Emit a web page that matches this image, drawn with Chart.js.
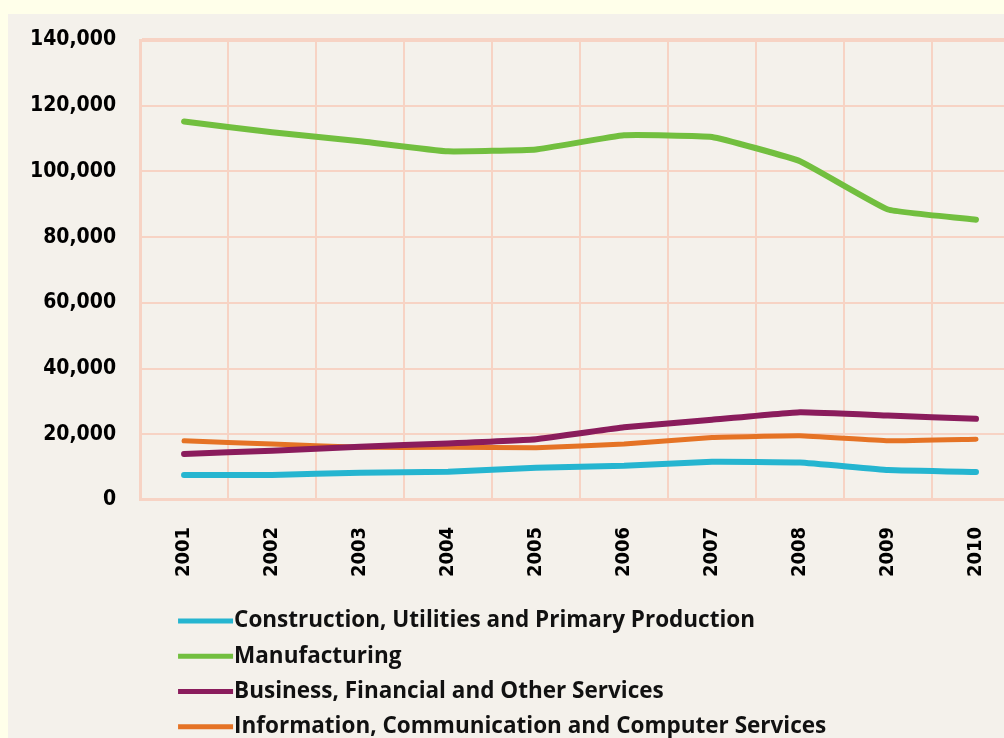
<!DOCTYPE html>
<html>
<head>
<meta charset="utf-8">
<script src="https://cdn.jsdelivr.net/npm/chart.js@4"></script>
<style>
html,body{margin:0;padding:0;overflow:hidden;background:#ffffea;}
#wrap{position:absolute;left:0;top:0;width:1032px;height:738px;}
</style>
</head>
<body>
<div id="wrap"><canvas id="c" width="1032" height="738"></canvas></div>
<script>
const years = ["2001","2002","2003","2004","2005","2006","2007","2008","2009","2010"];
const yTicks = [0, 20000, 40000, 60000, 80000, 100000, 120000, 140000];
const seriesNames = [
  "Construction, Utilities and Primary Production",
  "Manufacturing",
  "Business, Financial and Other Services",
  "Information, Communication and Computer Services"
];
const construction = [7600, 7600, 8300, 8600, 9800, 10400, 11600, 11400, 9100, 8500];
const manufacturing = [115200, 111900, 109200, 106100, 106700, 111000, 110500, 103100, 88400, 85300];
const business = [14000, 15000, 16200, 17200, 18500, 22100, 24400, 26700, 25700, 24700];
const information = [18000, 17000, 16000, 16000, 15900, 17000, 19000, 19500, 18000, 18500];
const colors = ["#25b5d0", "#72bf3f", "#8a1c5c", "#e57325"];
const widths = [6, 6, 6, 5];

const bgPlugin = {
  id: 'bg',
  beforeDraw(chart) {
    const ctx = chart.ctx;
    ctx.save();
    ctx.fillStyle = '#ffffea';
    ctx.fillRect(0, 0, chart.width, chart.height);
    ctx.fillStyle = '#f4f1eb';
    ctx.fillRect(8, 14, chart.width - 8, chart.height - 14);
    ctx.restore();
  }
};

const legendPlugin = {
  id: 'customLegend',
  afterDraw(chart) {
    const ctx = chart.ctx;
    const area = chart.chartArea;
    ctx.save();
    ctx.font = '700 22.5px "Open Sans"';
    ctx.textBaseline = 'middle';
    chart.data.datasets.forEach((ds, i) => {
      const y = area.bottom + 121 + i * 35.3;
      const x0 = area.left + 38;
      ctx.strokeStyle = ds.borderColor;
      ctx.lineWidth = 5;
      ctx.beginPath();
      ctx.moveTo(x0, y);
      ctx.lineTo(x0 + 55, y);
      ctx.stroke();
      ctx.fillStyle = '#111';
      ctx.fillText(ds.label, x0 + 56, y);
    });
    ctx.restore();
  }
};

const dataArrays = [construction, manufacturing, business, information];
const fam = '"DejaVu Sans Condensed", "DejaVu Sans"';

new Chart(document.getElementById('c'), {
  type: 'line',
  data: {
    labels: years,
    datasets: seriesNames.map((name, i) => ({
      label: name,
      data: dataArrays[i],
      borderColor: colors[i],
      backgroundColor: colors[i],
      borderWidth: widths[i],
      pointRadius: 0,
      tension: 0.1,
      borderCapStyle: 'round',
      borderJoinStyle: 'round',
      fill: false
    }))
  },
  options: {
    responsive: false,
    animation: false,
    layout: { padding: { left: 6, top: 40, right: 12, bottom: 134 } },
    plugins: {
      legend: { display: false },
      tooltip: { enabled: false }
    },
    scales: {
      x: {
        offset: true,
        grid: { offset: true, color: '#f7d3c4', lineWidth: 2, drawTicks: false },
        border: { color: '#f7d3c4', width: 3 },
        ticks: {
          color: '#000',
          font: { family: fam, size: 20, weight: 'bold' },
          minRotation: 90, maxRotation: 90,
          padding: 27,
          autoSkip: false
        }
      },
      y: {
        min: 0, max: 140000,
        afterBuildTicks(axis) { axis.ticks = yTicks.map(v => ({ value: v })); },
        grid: {
          color: '#f7d3c4',
          lineWidth: (c) => (c.tick && c.tick.value === 140000) ? 4 : 2,
          drawTicks: false
        },
        border: { color: '#f7d3c4', width: 3 },
        ticks: {
          color: '#000',
          font: { family: fam, size: 21, weight: 'bold' },
          padding: 24,
          callback: (v) => v.toLocaleString('en-US')
        }
      }
    }
  },
  plugins: [bgPlugin, legendPlugin]
});
</script>
</body>
</html>
